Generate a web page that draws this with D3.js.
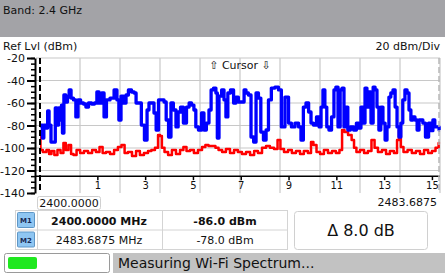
<!DOCTYPE html>
<html>
<head>
<meta charset="utf-8">
<script src="https://cdn.jsdelivr.net/npm/d3@7"></script>
<style>
  body { margin: 0; background: #fff; }
  svg { display: block; font-family: "DejaVu Sans", sans-serif; }
</style>
</head>
<body>
<div id="chart"></div>
<script>
// sweep settings
const startFreq = 2400.0;
const stopFreq = 2483.6875;
const levelTicks = [-20, -40, -60, -80, -100, -120, -140];
const channels = [1, 3, 5, 7, 9, 11, 13, 15];

// marker readout
const markers = [
    { name: "M1", freq: "2400.0000 MHz", level: "-86.0 dBm", bold: true },
    { name: "M2", freq: "2483.6875 MHz", level: "-78.0 dBm", bold: false }
];
const deltaText = "\u0394 8.0 dB";

// max hold trace [MHz, dBm]
const blueTrace = [
    [2400.0, -80.4], [2400.4, -79.6], [2400.6, -91.1], [2401.0, -79.6], [2401.5, -82.2],
    [2401.7, -67.1], [2402.1, -79.6], [2402.5, -94.7], [2403.1, -94.7], [2403.3, -64.4],
    [2403.8, -79.6], [2404.0, -64.4], [2404.4, -75.1], [2404.6, -61.8], [2404.8, -86.7],
    [2405.2, -52.9], [2405.6, -59.1], [2405.9, -54.7], [2406.3, -48.4], [2406.7, -55.6],
    [2407.3, -57.3], [2407.7, -72.4], [2408.2, -57.3], [2408.8, -60.0], [2409.4, -60.9],
    [2409.8, -63.6], [2410.5, -60.0], [2411.1, -60.9], [2411.7, -60.0], [2412.1, -50.2],
    [2412.6, -60.0], [2413.2, -51.1], [2413.6, -72.4], [2414.2, -57.3], [2415.1, -55.6],
    [2415.9, -48.4], [2416.3, -57.3], [2416.7, -75.1], [2417.2, -53.8], [2417.8, -60.0],
    [2418.2, -52.9], [2418.8, -48.4], [2419.5, -50.2], [2419.9, -51.1], [2420.3, -60.0],
    [2420.9, -60.0], [2421.5, -79.6], [2422.2, -92.9], [2422.6, -66.2], [2423.0, -60.0],
    [2423.6, -60.0], [2424.1, -68.9], [2424.5, -84.0], [2425.1, -57.3], [2425.7, -57.3],
    [2426.2, -59.1], [2426.6, -75.1], [2427.2, -90.2], [2427.6, -60.0], [2428.2, -66.2],
    [2428.7, -81.3], [2429.1, -68.0], [2429.7, -63.6], [2430.3, -77.8], [2431.0, -63.6],
    [2431.4, -60.0], [2432.0, -61.8], [2432.4, -66.2], [2432.8, -81.3], [2433.5, -84.0],
    [2434.1, -68.9], [2434.5, -84.0], [2435.1, -77.8], [2435.6, -66.2], [2436.0, -48.4],
    [2436.6, -46.7], [2437.0, -51.1], [2437.2, -91.1], [2437.7, -53.8], [2438.3, -48.4],
    [2438.7, -57.3], [2439.1, -72.4], [2439.5, -51.1], [2440.2, -48.4], [2440.8, -60.0],
    [2441.2, -54.7], [2441.8, -59.1], [2442.5, -59.1], [2442.9, -48.4], [2443.3, -51.1],
    [2443.9, -52.9], [2444.4, -90.2], [2445.0, -94.7], [2445.4, -51.1], [2446.0, -55.6],
    [2446.4, -85.8], [2447.1, -92.9], [2447.5, -84.0], [2448.1, -57.3], [2448.7, -46.7],
    [2449.6, -45.8], [2450.2, -48.4], [2450.8, -81.3], [2451.7, -54.7], [2452.3, -77.8],
    [2452.9, -81.3], [2453.8, -77.8], [2454.4, -81.3], [2454.8, -92.9], [2455.4, -63.6],
    [2455.9, -60.0], [2456.5, -68.0], [2456.9, -77.8], [2457.5, -79.6], [2458.2, -72.4],
    [2458.6, -81.3], [2459.0, -63.6], [2459.4, -48.4], [2459.8, -63.6], [2460.2, -81.3],
    [2460.7, -84.0], [2461.3, -72.4], [2461.7, -48.4], [2462.1, -45.8], [2462.6, -81.3],
    [2463.0, -48.4], [2463.4, -46.7], [2463.8, -81.3], [2464.2, -63.6], [2464.6, -84.0],
    [2465.3, -81.3], [2465.9, -84.0], [2466.5, -77.8], [2466.9, -82.2], [2467.4, -63.6],
    [2467.8, -77.8], [2468.2, -46.7], [2468.6, -63.6], [2469.0, -50.2], [2469.5, -77.8],
    [2469.9, -45.8], [2470.3, -48.4], [2470.7, -63.6], [2471.1, -84.0], [2471.5, -63.6],
    [2472.0, -77.8], [2472.4, -92.9], [2472.8, -81.3], [2473.2, -54.7], [2473.6, -51.1],
    [2474.1, -48.4], [2474.5, -63.6], [2474.9, -81.3], [2475.3, -90.2], [2475.7, -77.8],
    [2476.1, -57.3], [2476.6, -48.4], [2477.0, -51.1], [2477.4, -66.2], [2477.8, -75.1],
    [2478.2, -72.4], [2478.7, -75.1], [2479.1, -84.0], [2479.5, -75.1], [2479.9, -75.1],
    [2480.3, -77.8], [2481.0, -90.2], [2481.6, -77.8], [2482.0, -84.6], [2482.4, -75.1],
    [2482.8, -81.3], [2483.3, -81.3], [2483.7, -84.0]
];

// live trace [MHz, dBm]
const redTrace = [
    [2400.0, -88.4], [2400.2, -101.8], [2401.0, -103.6], [2401.7, -101.8], [2402.1, -105.3],
    [2402.7, -102.7], [2403.3, -106.2], [2404.0, -101.8], [2404.6, -104.4], [2405.2, -95.6],
    [2405.6, -101.8], [2406.3, -97.3], [2406.7, -105.3], [2407.3, -106.2], [2408.0, -101.8],
    [2408.8, -104.4], [2409.6, -102.7], [2410.5, -104.4], [2411.3, -101.8], [2412.1, -103.6],
    [2412.8, -99.1], [2413.4, -104.4], [2414.2, -103.6], [2415.1, -105.3], [2415.9, -101.8],
    [2416.7, -99.1], [2417.4, -97.3], [2418.0, -104.4], [2418.8, -103.6], [2419.7, -107.1],
    [2420.5, -102.7], [2421.3, -106.2], [2422.2, -104.4], [2423.0, -102.7], [2423.6, -101.8],
    [2424.5, -99.8], [2424.9, -88.4], [2425.3, -89.3], [2425.7, -99.8], [2426.4, -103.6],
    [2427.2, -106.2], [2428.0, -101.8], [2428.9, -105.3], [2429.7, -101.8], [2430.3, -99.1],
    [2431.0, -102.7], [2431.8, -101.8], [2432.6, -104.4], [2433.5, -101.8], [2434.3, -99.1],
    [2434.9, -97.3], [2435.6, -98.2], [2436.4, -98.2], [2437.0, -99.8], [2437.7, -101.8],
    [2438.5, -103.6], [2439.3, -100.9], [2440.2, -104.4], [2441.0, -101.8], [2441.8, -103.6],
    [2442.7, -105.3], [2443.5, -103.6], [2444.4, -106.2], [2445.2, -102.7], [2446.0, -104.4],
    [2446.9, -99.8], [2447.7, -98.2], [2448.5, -99.8], [2449.4, -100.9], [2450.0, -92.9],
    [2450.6, -100.9], [2451.5, -103.6], [2452.3, -101.8], [2453.1, -104.4], [2454.0, -102.7],
    [2454.8, -105.3], [2455.6, -102.7], [2456.5, -104.4], [2456.9, -94.7], [2457.5, -97.3],
    [2458.2, -103.6], [2459.0, -105.3], [2459.8, -101.8], [2460.7, -104.4], [2461.5, -102.7],
    [2462.3, -104.4], [2463.0, -101.8], [2463.4, -84.0], [2464.0, -85.8], [2464.9, -88.4],
    [2465.5, -92.9], [2465.9, -99.8], [2466.5, -103.6], [2467.4, -101.8], [2468.2, -104.4],
    [2469.0, -102.7], [2469.7, -92.9], [2470.3, -99.8], [2471.1, -103.6], [2472.0, -101.8],
    [2472.8, -105.3], [2473.6, -102.7], [2474.5, -104.4], [2474.9, -92.9], [2475.3, -84.0],
    [2475.7, -99.1], [2476.4, -103.6], [2477.4, -101.8], [2478.2, -104.4], [2479.1, -102.7],
    [2479.9, -105.3], [2480.8, -101.8], [2481.6, -104.4], [2482.4, -102.7], [2483.1, -99.8],
    [2483.7, -95.6]
];

const width = 445;
const height = 275;
const plot = { left: 40, right: 440, top: 58, bottom: 193 };

const svg = d3.select("#chart")
    .append("svg")
    .attr("width", width)
    .attr("height", height);

// header band
svg.append("rect")
    .attr("x", 0).attr("y", 0)
    .attr("width", width).attr("height", 37)
    .attr("fill", "#a3a3a7");

svg.append("text")
    .attr("x", 3).attr("y", 14)
    .style("font-size", "11px")
    .attr("fill", "#111")
    .text("Band: 2.4 GHz");

svg.append("text")
    .attr("x", 3).attr("y", 50)
    .style("font-size", "11px")
    .attr("fill", "#111")
    .text("Ref Lvl (dBm)");

svg.append("text")
    .attr("x", 440).attr("y", 50)
    .attr("text-anchor", "end")
    .style("font-size", "11px")
    .attr("fill", "#111")
    .text("20 dBm/Div");

const x = d3.scaleLinear()
    .domain([startFreq, stopFreq])
    .range([plot.left, plot.right]);

const y = d3.scaleLinear()
    .domain([-20, -140])
    .range([plot.top, plot.bottom]);

// grid
const span = stopFreq - startFreq;
const vGrid = d3.range(1, 11).map((k) => startFreq + k * span / 10);

svg.append("g")
    .selectAll("line")
    .data(vGrid)
    .enter()
    .append("line")
    .attr("x1", (d) => x(d)).attr("x2", (d) => x(d))
    .attr("y1", plot.top).attr("y2", plot.bottom)
    .attr("stroke", "#c8c8c8")
    .attr("stroke-width", 1.2);

svg.append("g")
    .selectAll("line")
    .data(levelTicks.filter((d) => d > -140))
    .enter()
    .append("line")
    .attr("x1", 36).attr("x2", plot.right)
    .attr("y1", (d) => y(d)).attr("y2", (d) => y(d))
    .attr("stroke", "#c8c8c8")
    .attr("stroke-width", 1.2);

// y axis
const yMinor = svg.append("g")
    .attr("transform", "translate(35,0)")
    .call(d3.axisLeft(y).tickValues(d3.range(-20, -141, -5)).tickSize(4).tickSizeOuter(0).tickFormat(""));
yMinor.select(".domain").remove();
yMinor.selectAll("line").attr("stroke-width", 1.5);

const yAxis = svg.append("g")
    .attr("transform", "translate(35,0)")
    .call(d3.axisLeft(y).tickValues(levelTicks).tickSize(8).tickSizeOuter(0).tickPadding(2));
yAxis.select(".domain").attr("stroke-width", 2);
yAxis.selectAll("line").attr("stroke-width", 2);
yAxis.selectAll("text")
    .style("font-size", "11px")
    .style("font-family", "DejaVu Sans")
    .attr("fill", "#111")
    .text((d) => d);

// x axis (channels)
const chanFreq = (c) => 2407 + 5 * c;
const axisLevel = -125;

svg.append("line")
    .attr("x1", 35).attr("x2", plot.right)
    .attr("y1", y(axisLevel)).attr("y2", y(axisLevel))
    .attr("stroke", "#000")
    .attr("stroke-width", 1.5);

const xAxis = svg.append("g")
    .attr("transform", `translate(0,${y(axisLevel)})`)
    .call(d3.axisBottom(x).tickValues(channels.map(chanFreq)).tickSize(4).tickPadding(2)
        .tickFormat((d, i) => channels[i]));
xAxis.select(".domain").remove();
xAxis.selectAll("line").attr("stroke-width", 1.5);
xAxis.selectAll("text")
    .style("font-size", "10px")
    .style("font-family", "DejaVu Sans")
    .attr("fill", "#111");

// traces
svg.append("clipPath")
    .attr("id", "plotClip")
    .append("rect")
    .attr("x", plot.left).attr("y", plot.top)
    .attr("width", plot.right - plot.left + 2)
    .attr("height", plot.bottom - plot.top);

const line = d3.line()
    .x((d) => x(d[0]))
    .y((d) => y(d[1]))
    .curve(d3.curveStep);

const traces = svg.append("g").attr("clip-path", "url(#plotClip)");

traces.append("path")
    .datum(redTrace)
    .attr("d", line)
    .attr("fill", "none")
    .attr("stroke", "#ff0000")
    .attr("stroke-width", 2.5)
    .attr("stroke-linejoin", "round");

traces.append("path")
    .datum(blueTrace)
    .attr("d", line)
    .attr("fill", "none")
    .attr("stroke", "#0000ff")
    .attr("stroke-width", 3.3)
    .attr("stroke-linejoin", "round");

// marker cursors
svg.append("line")
    .attr("x1", x(startFreq)).attr("x2", x(startFreq))
    .attr("y1", plot.top).attr("y2", plot.bottom)
    .attr("stroke", "#000")
    .attr("stroke-width", 2)
    .attr("stroke-dasharray", "6,3");

svg.append("line")
    .attr("x1", x(stopFreq) - 1).attr("x2", x(stopFreq) - 1)
    .attr("y1", plot.top).attr("y2", plot.bottom)
    .attr("stroke", "#b8b8b8")
    .attr("stroke-width", 1.5)
    .attr("stroke-dasharray", "6,3");

svg.append("text")
    .attr("x", (plot.left + plot.right) / 2)
    .attr("y", 69)
    .attr("text-anchor", "middle")
    .style("font-size", "11px")
    .attr("fill", "#111")
    .text("\u21E7 Cursor \u21E9");

// start / stop labels
svg.append("rect")
    .attr("x", 37.5).attr("y", 196.5)
    .attr("width", 63).attr("height", 13)
    .attr("rx", 2)
    .attr("fill", "#fff")
    .attr("stroke", "#d0d0d0");

svg.append("text")
    .attr("x", 69).attr("y", 207)
    .attr("text-anchor", "middle")
    .style("font-size", "11px")
    .attr("fill", "#111")
    .text(startFreq.toFixed(4));

svg.append("text")
    .attr("x", 437).attr("y", 206)
    .attr("text-anchor", "end")
    .style("font-size", "11px")
    .attr("fill", "#111")
    .text(stopFreq.toFixed(4));

// marker table
const table = svg.append("g");
const rowTop = 210;
const rowH = 19.5;

table.append("rect")
    .attr("x", 15.5).attr("y", rowTop + 0.5)
    .attr("width", 272).attr("height", rowH * 2)
    .attr("fill", "#fff")
    .attr("stroke", "#d4d4d4");

table.append("line")
    .attr("x1", 15.5).attr("x2", 287.5)
    .attr("y1", rowTop + rowH + 0.5).attr("y2", rowTop + rowH + 0.5)
    .attr("stroke", "#d4d4d4");

[37.5, 162.5].forEach((cx) => {
    table.append("line")
        .attr("x1", cx).attr("x2", cx)
        .attr("y1", rowTop + 0.5).attr("y2", rowTop + rowH * 2 + 0.5)
        .attr("stroke", "#d4d4d4");
});

markers.forEach((m, i) => {
    const ry = rowTop + i * rowH;
    table.append("rect")
        .attr("x", 17.5).attr("y", ry + 2.5)
        .attr("width", 17).attr("height", 15)
        .attr("rx", 1)
        .attr("fill", "#8fc6f2")
        .attr("stroke", "#5f97c6");
    table.append("text")
        .attr("x", 26).attr("y", ry + 13)
        .attr("text-anchor", "middle")
        .style("font-size", "7px")
        .style("font-weight", "bold")
        .attr("fill", "#1a2a55")
        .text(m.name);
    table.append("text")
        .attr("x", 99).attr("y", ry + 14.5)
        .attr("text-anchor", "middle")
        .style("font-size", "11px")
        .style("font-weight", m.bold ? "bold" : "normal")
        .attr("fill", "#111")
        .text(m.freq);
    table.append("text")
        .attr("x", 225).attr("y", ry + 14.5)
        .attr("text-anchor", "middle")
        .style("font-size", "11px")
        .style("font-weight", m.bold ? "bold" : "normal")
        .attr("fill", "#111")
        .text(m.level);
});

// delta box
svg.append("rect")
    .attr("x", 294.5).attr("y", 211.5)
    .attr("width", 133).attr("height", 38)
    .attr("rx", 3)
    .attr("fill", "#fff")
    .attr("stroke", "#d0d0d0");

svg.append("text")
    .attr("x", 361).attr("y", 236)
    .attr("text-anchor", "middle")
    .style("font-size", "16px")
    .attr("fill", "#111")
    .text(deltaText);

// status bar
svg.append("rect")
    .attr("x", 4.5).attr("y", 253.5)
    .attr("width", 105).attr("height", 19)
    .attr("rx", 2)
    .attr("fill", "#fff")
    .attr("stroke", "#9a9a9a");

svg.append("rect")
    .attr("x", 8).attr("y", 257)
    .attr("width", 29).attr("height", 12)
    .attr("rx", 2)
    .attr("fill", "#1fe81f");

svg.append("rect")
    .attr("x", 113).attr("y", 253)
    .attr("width", 332).attr("height", 20)
    .attr("fill", "#c2c2c2");

svg.append("text")
    .attr("x", 118).attr("y", 268)
    .style("font-size", "14px")
    .attr("fill", "#111")
    .text("Measuring Wi-Fi Spectrum...");
</script>
</body>
</html>
